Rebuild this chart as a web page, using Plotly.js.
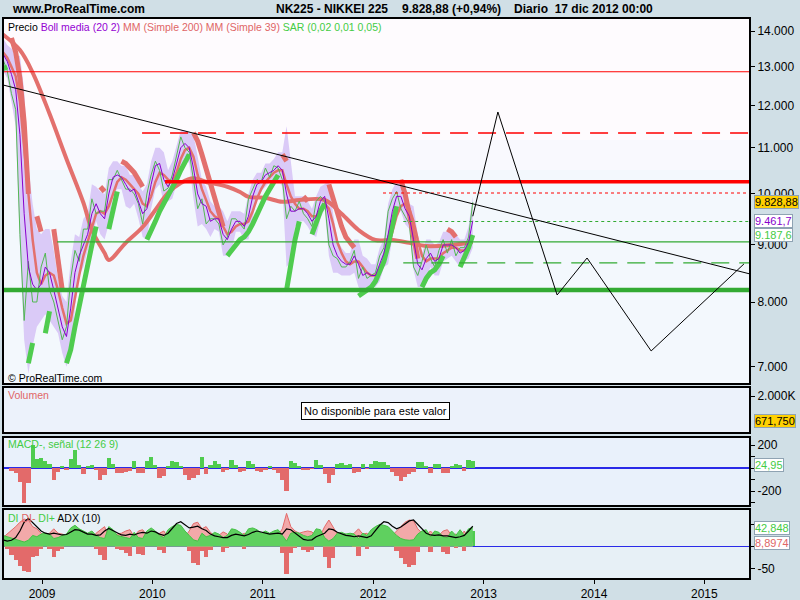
<!DOCTYPE html>
<html><head><meta charset="utf-8">
<script src="https://cdn.plot.ly/plotly-3.0.1.min.js"></script>
<style>html,body{margin:0;padding:0;background:#d0dfe6;} #chart{width:800px;height:600px;}</style>
</head><body><div id="chart"></div>
<script>
// ---------- DATA ----------
const dates = ['2008-08-25','2008-09-08','2008-09-22','2008-10-06','2008-10-20','2008-11-03','2008-11-17','2008-12-01','2008-12-15','2008-12-29',
'2009-01-12','2009-01-26','2009-02-09','2009-02-23','2009-03-09','2009-03-23','2009-04-06','2009-04-20','2009-05-04','2009-05-18',
'2009-06-01','2009-06-15','2009-06-29','2009-07-13','2009-07-27','2009-08-10','2009-08-24','2009-09-07','2009-09-21','2009-10-05',
'2009-10-19','2009-11-02','2009-11-16','2009-11-30','2009-12-14','2009-12-28','2010-01-11','2010-01-25','2010-02-08','2010-02-22',
'2010-03-08','2010-03-22','2010-04-05','2010-04-19','2010-05-03','2010-05-17','2010-05-31','2010-06-14','2010-06-28','2010-07-12',
'2010-07-26','2010-08-09','2010-08-23','2010-09-06','2010-09-20','2010-10-04','2010-10-18','2010-11-01','2010-11-15','2010-11-29',
'2010-12-13','2010-12-27','2011-01-10','2011-01-24','2011-02-07','2011-02-21','2011-03-07','2011-03-21','2011-04-04','2011-04-18',
'2011-05-02','2011-05-16','2011-05-30','2011-06-13','2011-06-27','2011-07-11','2011-07-25','2011-08-08','2011-08-22','2011-09-05',
'2011-09-19','2011-10-03','2011-10-17','2011-10-31','2011-11-14','2011-11-28','2011-12-12','2011-12-26','2012-01-09','2012-01-23',
'2012-02-06','2012-02-20','2012-03-05','2012-03-19','2012-04-02','2012-04-16','2012-04-30','2012-05-14','2012-05-28','2012-06-11',
'2012-06-25','2012-07-09','2012-07-23','2012-08-06','2012-08-20','2012-09-03','2012-09-17','2012-10-01','2012-10-15','2012-10-29',
'2012-11-12','2012-11-26'];

const closePrice = [13200,12900,12300,11900,9200,7700,8700,8000,8000,8600,
 8850,8200,8000,7700,7400,7600,8400,8900,8700,9300,
 9300,9900,9600,9650,9650,10300,10300,10500,10300,10100,
 10100,10000,9800,9400,10000,10400,10700,10500,10060,10120,
 10400,10820,11250,11000,10900,10300,9700,9900,9400,9500,
 9500,9400,9000,9150,9500,9500,9400,9300,9900,10100,
 10300,10250,10550,10350,10600,10550,10300,9500,9750,9650,
 9850,9600,9500,9350,9850,9950,9850,9000,8800,8750,
 8600,8600,8700,8900,8400,8600,8400,8450,8500,8800,
 8950,9650,9900,10050,9700,9550,9400,8600,8450,8700,
 9000,8750,8600,8900,9100,8850,9100,8800,8950,8950,
 9150,9829];

const bollMid = [13350,13150,12800,12400,11300,9600,8600,8300,8200,8300,
 8600,8500,8200,7900,7600,7450,7900,8500,8800,9000,
 9200,9600,9800,9600,9500,10000,10350,10400,10350,10200,
 10050,10100,9850,9600,9700,10200,10600,10650,10300,10150,
 10300,10650,11000,11100,11000,10550,10000,9800,9750,9450,
 9500,9500,9200,9100,9300,9450,9450,9350,9550,9950,
 10200,10250,10400,10450,10500,10600,10500,10000,9650,9650,
 9700,9700,9600,9450,9550,9850,9950,9500,9000,8800,
 8700,8650,8650,8800,8650,8450,8500,8450,8450,8650,
 8850,9200,9650,9950,9950,9700,9550,9100,8650,8550,
 8750,8850,8700,8750,9000,9000,9000,8950,8850,8900,
 9050,9462];

const bollUpper = [13800,13600,13500,13300,13300,12400,10600,9800,9300,9200,
 9300,9300,8900,8400,8100,8000,8700,9200,9150,9500,
 9600,10200,10150,10050,10000,10550,10700,10700,10600,10600,
 10400,10400,10200,10050,10200,10700,11000,11000,10900,10500,
 10700,11050,11400,11400,11350,11300,10800,10300,10150,9850,
 9750,9750,9650,9450,9650,9650,9650,9600,10000,10300,
 10450,10450,10650,10650,10750,10900,10900,11500,10700,9950,
 9950,9950,9850,9700,9950,10150,10200,10300,9600,9100,
 8950,8850,8850,9100,9100,8800,8750,8650,8650,8950,
 9100,9800,10100,10250,10300,10050,9800,9750,9200,8850,
 9100,9100,9000,9050,9250,9250,9250,9200,9100,9100,
 9350,9950];

const bollLower = [12900,12700,12100,11500,9000,7400,6900,7300,7600,7700,
 7800,7700,7600,7500,7200,7000,7200,7900,8450,8600,
 8900,9100,9450,9200,9100,9400,10000,10100,10100,9750,
 9700,9800,9500,9150,9100,9700,10100,10200,9800,9850,
 9900,10200,10600,10800,10650,9900,9350,9400,9300,9150,
 9300,9250,8800,8800,8900,9250,9250,9100,9100,9500,
 9950,10050,10150,10250,10300,10300,10150,8600,8700,9350,
 9450,9450,9350,9200,9150,9500,9700,8800,8500,8500,
 8450,8450,8450,8500,8250,8150,8250,8250,8250,8350,
 8600,8650,9100,9650,9650,9400,9300,8550,8250,8250,
 8400,8600,8450,8450,8700,8750,8800,8700,8600,8700,
 8750,8950];

const mm39 = [13400,13250,13000,12750,12100,11000,10000,9100,8500,8300,
 8450,8500,8450,8200,7900,7650,7700,8100,8450,8800,
 9050,9350,9600,9650,9600,9750,10000,10250,10350,10300,
 10200,10100,10000,9800,9750,9950,10250,10450,10400,10300,
 10250,10450,10750,10950,11000,10800,10400,10100,9850,9650,
 9550,9500,9350,9200,9250,9350,9400,9400,9450,9650,
 9900,10100,10250,10350,10450,10500,10500,10200,9950,9800,
 9700,9700,9650,9550,9550,9650,9800,9700,9400,9050,
 8850,8700,8650,8700,8700,8600,8500,8450,8450,8550,
 8700,8950,9250,9550,9750,9800,9700,9450,9100,8800,
 8700,8750,8750,8750,8850,8900,8950,8950,8900,8900,
 8950,9150];

const mm200Dates = ['2008-08-25','2008-10-20','2008-12-01','2009-01-26','2009-03-23','2009-05-18','2009-06-15','2009-07-27','2009-08-10','2009-10-05',
 '2009-11-30','2010-01-11','2010-02-22','2010-04-05','2010-05-17','2010-06-28','2010-09-06','2010-10-18','2010-11-15','2011-01-10',
 '2011-03-07','2011-05-02','2011-07-25','2011-09-19','2011-11-14','2012-01-09','2012-03-05','2012-04-30','2012-06-25','2012-09-17','2012-11-26'];
const mm200 = [13900,13460,12850,11800,10750,9820,9283,8850,8725,9040,
 9340,9675,10020,10230,10330,10250,10150,10040,9940,9920,
 9840,9876,9876,9600,9283,9093,9093,9040,8980,9000,9055];

const sarUp = [12950,13000,null,null,null,null,7050,7350,null,null,
 7500,7850,null,null,null,7050,7250,7600,7950,8300,
 8650,9000,9350,null,null,9300,9700,10050,null,null,
 null,null,null,null,9100,9250,9450,9650,9800,9950,
 10100,10300,10500,10700,10850,null,null,null,null,null,
 null,null,null,8800,8900,9000,9100,9150,9250,9400,
 9600,9800,9950,10100,10250,10400,null,8200,8650,9100,
 9450,null,null,9200,9450,9650,9800,null,null,null,
 null,null,null,null,8100,8150,8200,8250,8350,8500,
 8700,9000,9400,9750,null,null,null,null,null,8250,
 8400,8500,8550,8650,8800,null,null,null,8600,8750,
 8950,9188];

const sarDown = [null,null,13800,13400,12700,11600,10000,null,9550,9250,
 null,null,9300,8800,8200,null,null,null,null,null,
 null,null,null,10150,10050,null,null,null,10700,10650,
 10550,10450,10300,10150,null,null,null,null,null,null,
 null,null,null,null,null,11350,11150,10850,10550,10250,
 9950,9650,9350,null,null,null,null,null,null,null,
 null,null,null,null,null,null,10850,10700,null,null,
 null,9950,9850,null,null,null,null,10200,9900,9600,
 9350,9150,9050,8950,null,null,null,null,null,null,
 null,null,null,null,10300,10000,9600,9150,8750,null,
 null,null,null,null,null,9300,9250,9150,null,null,
 null,null];

const macdHist = [5,5,-25,-40,-120,-300,-130,200,80,90,
 60,40,-100,-30,20,-15,80,160,30,-50,
 20,25,-15,-100,-60,90,40,-45,-40,-35,
 -25,60,-45,-40,60,100,30,-90,-70,20,
 60,55,20,-60,-100,-90,-60,100,-50,30,
 60,40,-30,-20,75,30,-30,-25,60,40,
 -25,-30,-15,20,-15,-40,-100,-200,60,45,
 20,-15,-20,-10,70,30,-50,-130,-60,40,
 45,30,35,-45,-30,40,-10,40,60,55,
 50,30,-30,-70,-110,-80,-50,-30,55,50,
 20,-45,40,35,-40,-45,20,40,30,-25,
 70,60];

const diPlus = [25,22,18,15,12,10,14,25,22,28,
 30,28,18,20,25,28,42,48,40,35,
 30,35,25,20,18,45,38,25,22,20,
 18,32,20,18,35,42,35,25,20,38,
 45,50,48,35,25,15,12,30,22,25,
 32,28,20,25,40,38,32,25,40,42,
 38,30,35,30,35,38,25,12,30,32,
 30,25,22,25,40,38,20,12,18,30,
 32,28,30,28,18,30,25,38,45,50,
 48,45,35,25,18,15,14,15,28,35,
 38,22,35,32,22,20,35,25,38,25,
 40,42.848];

const diMinus = [20,28,38,45,55,62,60,45,40,30,
 25,30,40,30,28,25,18,15,18,25,
 22,20,30,38,45,18,20,28,30,35,
 38,22,35,38,25,18,20,30,35,20,
 15,14,16,22,35,52,55,40,45,32,
 24,25,33,28,18,20,24,30,18,16,
 18,22,20,25,22,25,40,75,45,35,
 30,33,35,33,22,25,45,60,45,28,
 25,28,24,30,40,28,30,20,15,14,
 16,18,25,35,45,55,60,58,40,30,
 25,35,25,25,35,38,25,28,22,35,
 18,8.8974];

const adx = [15,12,14,20,35,55,64,55,45,35,
 30,28,30,28,26,27,33,38,37,32,
 28,28,25,26,35,41,36,30,26,25,
 28,26,30,32,30,35,33,28,25,30,
 42,52,56,50,42,44,46,40,36,28,
 24,22,20,20,25,28,26,24,27,32,
 35,33,30,28,29,30,28,40,38,30,
 22,16,14,15,22,26,30,40,38,32,
 28,25,24,22,24,22,20,24,35,48,
 56,54,46,40,44,52,58,60,50,38,
 30,26,25,26,24,24,22,20,22,25,
 35,46];

const diHist = [5,-6,-20,-31,-45,-55,-57,-25,-22,-5,
 5,-5,-23,-10,-5,5,24,33,22,10,
 8,15,-5,-20,-30,27,18,-5,-8,-15,
 -22,10,-18,-20,10,24,15,-8,-16,18,
 30,36,32,13,-10,-37,-42,-10,-23,-7,
 8,3,-13,-3,22,18,8,-5,22,26,
 20,8,15,5,13,13,-15,-63,-15,-3,
 0,-8,-13,-8,18,13,-25,-48,-27,2,
 7,0,6,-2,-22,2,-5,18,30,36,
 32,27,10,-10,-27,-40,-46,-43,-12,5,
 13,-13,10,7,-13,-18,10,-3,16,-10,
 22,34];

// horizontal support / resistance levels
const levelValues = [12870, 11341, 10256, 10020, 9447, 9056, 8672, 8201];
const levelStarts = ['2008-08-25','2009-11-28','2010-02-12','2012-02-03','2012-04-10','2009-02-20','2012-04-10','2008-08-25'];
const levelEnd = '2015-06-01';

// long-term trend line and forecast zig-zag
const trendDates = ['2008-08-25','2015-06-01'];
const trendValues = [12523, 8477];
const zigDates = ['2012-11-26','2013-02-17','2013-09-01','2013-12-09','2014-07-09','2015-05-12'];
const zigValues = [9550, 11844, 8117, 8761, 7231, 8654];

// axis ticks
const priceTicks = [7000,8000,9000,10000,11000,12000,13000,14000];
const priceTickText = ['7.000','8.000','9.000','10.000','11.000','12.000','13.000','14.000'];
const yearTicks = ['2009-01-01','2010-01-01','2011-01-01','2012-01-01','2013-01-01','2014-01-01','2015-01-01'];
const yearText = ['2009','2010','2011','2012','2013','2014','2015'];

// last values shown on the right
const lastPrice = 9828.88, lastMid = 9461.7, lastSar = 9187.6, lastVolK = 671.75, lastMacd = 24.95;
const lastDiPlus = 42.848, lastDiMinus = 8.8974;

// ---------- STYLE / LAYOUT ----------
const W = 800, H = 600;
const FONT = 'Liberation Sans, Arial, sans-serif';
const px = x => x / W, py = y => 1 - y / H;
const L = 3, R = 750;
const panels = {main:[18,384], vol:[387,433], macd:[437,506], di:[509,579]};
const dom = p => [py(panels[p][1]), py(panels[p][0])];

const SALMON = '#e3706d', GREEN = '#4fcc4f', LAV = '#dacaf7', PURPLE = '#8800cc';
const levelStyles = [
  {color:'#ff0000', width:1, dash:'solid'},
  {color:'#ff0000', width:1.3, dash:'18px,10px'},
  {color:'#ff0000', width:3.5, dash:'solid'},
  {color:'#ff0000', width:1.1, dash:'3px,3px'},
  {color:'#33aa33', width:1.1, dash:'3px,3px'},
  {color:'#33aa33', width:1.3, dash:'solid'},
  {color:'#33aa33', width:1.3, dash:'18px,10px'},
  {color:'#33aa33', width:4.5, dash:'solid'}
];

const traces = [];
const base = {type:'scatter', mode:'lines', showlegend:false, hoverinfo:'skip', xaxis:'x'};
traces.push(Object.assign({}, base, {x:dates, y:bollUpper, yaxis:'y', line:{width:0, color:LAV}}));
traces.push(Object.assign({}, base, {x:dates, y:bollLower, yaxis:'y', line:{width:0, color:LAV}, fill:'tonexty', fillcolor:LAV}));
traces.push(Object.assign({}, base, {x:mm200Dates, y:mm200, yaxis:'y', line:{width:4, color:SALMON, shape:'spline'}}));
traces.push(Object.assign({}, base, {x:dates, y:mm39, yaxis:'y', line:{width:2.5, color:SALMON}}));
traces.push(Object.assign({}, base, {x:dates, y:closePrice, yaxis:'y', line:{width:1, color:'#52b852'}}));
traces.push(Object.assign({}, base, {x:dates, y:sarUp, yaxis:'y', connectgaps:false, line:{width:5, color:GREEN}}));
traces.push(Object.assign({}, base, {x:dates, y:sarDown, yaxis:'y', connectgaps:false, line:{width:5, color:SALMON}}));
traces.push(Object.assign({}, base, {x:dates, y:bollMid, yaxis:'y', line:{width:1, color:PURPLE}}));
levelValues.forEach((v, k) => {
  traces.push(Object.assign({}, base, {x:[levelStarts[k], levelEnd], y:[v, v], yaxis:'y', line:levelStyles[k]}));
});
traces.push(Object.assign({}, base, {x:trendDates, y:trendValues, yaxis:'y', line:{width:1, color:'#000'}}));
traces.push(Object.assign({}, base, {x:zigDates, y:zigValues, yaxis:'y', line:{width:1, color:'#000'}}));
// volume panel (no data available)
traces.push(Object.assign({}, base, {x:[], y:[], yaxis:'y2'}));
// MACD histogram
traces.push({type:'bar', x:dates, y:macdHist, xaxis:'x', yaxis:'y3', showlegend:false, hoverinfo:'skip',
  marker:{color:macdHist.map(v => v >= 0 ? GREEN : '#e36a6a'), line:{width:0}}});
// DI / ADX panel
traces.push(Object.assign({}, base, {x:dates, y:diMinus, yaxis:'y4', fill:'tozeroy', fillcolor:'#f2a9a9', line:{width:1, color:'#e36a6a'}}));
traces.push(Object.assign({}, base, {x:dates, y:diPlus, yaxis:'y4', fill:'tozeroy', fillcolor:'#5fd05f', line:{width:1, color:'#44c044'}}));
traces.push({type:'bar', x:dates, y:diHist, xaxis:'x', yaxis:'y4', showlegend:false, hoverinfo:'skip',
  marker:{color:diHist.map(v => v >= 0 ? GREEN : '#e36a6a'), line:{width:0}}});
traces.push(Object.assign({}, base, {x:dates, y:adx, yaxis:'y4', line:{width:1.2, color:'#000'}}));

const tickFont = {family:FONT, size:12, color:'#000'};
const yCommon = {side:'right', anchor:'x', ticks:'outside', ticklen:4, tickcolor:'#000', showgrid:false,
  tickfont:tickFont, fixedrange:true, automargin:false, showline:false};

const shapes = [];
const bgs = [
  {y0:18, y1:140, c:'#fefbfe'}, {y0:140, y1:170, c:'#f9f9fe'}, {y0:170, y1:384, c:'#f3f8fd'},
  {y0:387, y1:433, c:'#ecf2fb'}, {y0:437, y1:506, c:'#e9f1fb'}, {y0:509, y1:579, c:'#e7f0f6'}
];
bgs.forEach(b => shapes.push({type:'rect', xref:'paper', yref:'paper', x0:px(L), x1:px(R), y0:py(b.y1), y1:py(b.y0),
  fillcolor:b.c, line:{width:0}, layer:'below'}));
Object.keys(panels).forEach(k => shapes.push({type:'rect', xref:'paper', yref:'paper', x0:px(L), x1:px(R),
  y0:py(panels[k][1]), y1:py(panels[k][0]), line:{color:'#000', width:2}, fillcolor:'rgba(0,0,0,0)', layer:'above'}));

function fmtNum(v, d){ const parts = v.toFixed(d).split('.'); parts[0] = parts[0].replace(/\B(?=(\d{3})+(?!\d))/g, '.'); return parts.join(','); }

const boxAnn = (yref, y, text, color, bg) => ({xref:'paper', yref:yref, x:px(754), y:y, xanchor:'left', yanchor:'middle',
  text:text, showarrow:false, font:{family:FONT, size:11, color:color}, bgcolor:bg, bordercolor:'#8fa3b3', borderwidth:1, borderpad:0});

const hdr = (x, anchor, text) => ({xref:'paper', yref:'paper', x:px(x), y:py(9), xanchor:anchor, yanchor:'middle', showarrow:false,
  text:'<b>' + text + '</b>', font:{family:FONT, size:12, color:'#000'}});

const annotations = [
  hdr(10, 'left', 'www.ProRealTime.com'),
  hdr(390, 'right', 'NK225 - NIKKEI 225'),
  hdr(400, 'left', fmtNum(lastPrice, 2) + ' (+0,94%)'),
  hdr(512, 'left', 'Diario&nbsp;&nbsp;17 dic 2012 00:00'),
  {xref:'paper', yref:'paper', x:px(6), y:py(27), xanchor:'left', yanchor:'middle', showarrow:false,
    text:'Precio <span style="color:#9400d3">Boll media (20 2)</span> <span style="color:#e06666">MM (Simple 200) MM (Simple 39)</span> <span style="color:#44cc44">SAR (0,02 0,01 0,05)</span>',
    font:{family:FONT, size:10.5, color:'#000'}},
  {xref:'paper', yref:'paper', x:px(6), y:py(378), xanchor:'left', yanchor:'middle', showarrow:false,
    text:'© ProRealTime.com', font:{family:FONT, size:10.5, color:'#000'}},
  {xref:'paper', yref:'paper', x:px(6), y:py(395), xanchor:'left', yanchor:'middle', showarrow:false,
    text:'Volumen', font:{family:FONT, size:10.5, color:'#e06666'}},
  {xref:'paper', yref:'paper', x:px(375.5), y:py(410.5), xanchor:'center', yanchor:'middle', showarrow:false,
    text:'No disponible para este valor', font:{family:FONT, size:11, color:'#000'}, bgcolor:'#fff', bordercolor:'#000', borderwidth:1, borderpad:2},
  {xref:'paper', yref:'paper', x:px(6), y:py(444), xanchor:'left', yanchor:'middle', showarrow:false,
    text:'MACD-, señal (12 26 9)', font:{family:FONT, size:10.5, color:'#44cc44'}},
  {xref:'paper', yref:'paper', x:px(6), y:py(518), xanchor:'left', yanchor:'middle', showarrow:false,
    text:'<span style="color:#44cc44">DI</span> <span style="color:#e06666">DI-</span> <span style="color:#44cc44">DI+</span> ADX (10)',
    font:{family:FONT, size:10.5, color:'#000'}},
  boxAnn('y', Math.log10(lastPrice), fmtNum(lastPrice, 2), '#000', '#ffd000'),
  boxAnn('y', Math.log10(lastMid), fmtNum(lastMid, 1), '#8800cc', '#fff'),
  boxAnn('y', Math.log10(lastSar), fmtNum(lastSar, 1), '#44cc44', '#fff'),
  boxAnn('y2', lastVolK, fmtNum(lastVolK, 3), '#000', '#ffd000'),
  boxAnn('y3', lastMacd, fmtNum(lastMacd, 2), '#44cc44', '#fff'),
  boxAnn('y4', lastDiPlus, fmtNum(lastDiPlus, 3), '#44cc44', '#fff'),
  boxAnn('y4', lastDiMinus, fmtNum(lastDiMinus, 4), '#e06666', '#fff')
];

const layout = {
  width:W, height:H, margin:{l:0, r:0, t:0, b:0, pad:0},
  paper_bgcolor:'#d0dfe6', plot_bgcolor:'rgba(0,0,0,0)',
  showlegend:false, bargap:0, hovermode:false,
  font:{family:FONT, size:12, color:'#000'},
  xaxis:{type:'date', domain:[px(L), px(R)], anchor:'y4', range:['2008-08-25','2015-06-01'],
    tickvals:yearTicks, ticktext:yearText, ticks:'outside', ticklen:4, tickcolor:'#000',
    showgrid:false, zeroline:false, showline:false, tickfont:tickFont, fixedrange:true, automargin:false},
  yaxis:Object.assign({}, yCommon, {type:'log', domain:dom('main'), range:[Math.log10(6754), Math.log10(14381)],
    tickvals:priceTicks, ticktext:priceTickText, zeroline:false}),
  yaxis2:Object.assign({}, yCommon, {domain:dom('vol'), range:[0, 2500], tickvals:[2000], ticktext:['2.000K'], zeroline:false}),
  yaxis3:Object.assign({}, yCommon, {domain:dom('macd'), range:[-330, 272], tickvals:[-300,-200,-100,0,100,200],
    ticktext:['','-200','','','','200'], zeroline:true, zerolinecolor:'#2a2ae8', zerolinewidth:1.5}),
  yaxis4:Object.assign({}, yCommon, {domain:dom('di'), range:[-74, 85], tickvals:[-50,0,50], ticktext:['-50','',''],
    zeroline:true, zerolinecolor:'#2a2ae8', zerolinewidth:1.5}),
  shapes:shapes, annotations:annotations
};

Plotly.newPlot('chart', traces, layout, {staticPlot:true, displayModeBar:false});
</script></body></html>
